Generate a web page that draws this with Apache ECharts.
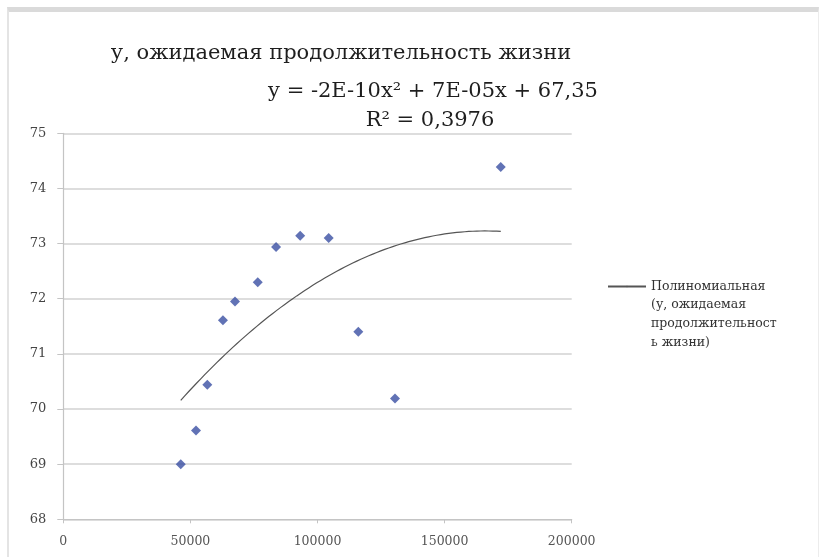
<!DOCTYPE html>
<html>
<head>
<meta charset="utf-8">
<script src="https://cdn.jsdelivr.net/npm/echarts@6/dist/echarts.min.js"></script>
<style>
html, body { margin: 0; padding: 0; background: #fff; }
#chart { width: 822px; height: 557px; }
#frame {
  position: absolute; left: 7px; top: 7px; width: 812px; height: 560px;
  border-top: 5px solid #dadada; border-left: 2px solid #e4e4e4; border-right: 1px solid #ececec;
  box-sizing: border-box; pointer-events: none;
}
</style>
</head>
<body>
<div id="chart"></div>
<div id="frame"></div>
<script>
// x - доход, y - ожидаемая продолжительность жизни
const income = [46200, 52200, 56650, 62800, 67550, 76500, 83700, 93200, 104400, 116050, 130500, 172100];
const lifeExp = [69.00, 69.61, 70.44, 71.61, 71.95, 72.30, 72.94, 73.14, 73.10, 71.40, 70.19, 74.39];
const xTicks = [0, 50000, 100000, 150000, 200000];
const yTicks = [68, 69, 70, 71, 72, 73, 74, 75];

const titleText = "у, ожидаемая продолжительность жизни";
const eqText = "y = -2E-10x² + 7E-05x + 67,35";
const r2Text = "R² = 0,3976";
const legendText = "Полиномиальная\n(у, ожидаемая\nпродолжительност\nь жизни)";

// полиномиальный тренд 2-й степени (МНК по точкам)
function polyFit(xs, ys) {
  let s = [0, 0, 0, 0, 0], t = [0, 0, 0];
  xs.forEach((x, i) => {
    const u = x / 1e5;
    for (let k = 0; k < 5; k++) s[k] += Math.pow(u, k);
    for (let k = 0; k < 3; k++) t[k] += ys[i] * Math.pow(u, k);
  });
  const A = [[s[0], s[1], s[2], t[0]], [s[1], s[2], s[3], t[1]], [s[2], s[3], s[4], t[2]]];
  for (let i = 0; i < 3; i++) {
    for (let j = i + 1; j < 3; j++) {
      const f = A[j][i] / A[i][i];
      for (let k = i; k < 4; k++) A[j][k] -= f * A[i][k];
    }
  }
  const c = [0, 0, 0];
  for (let i = 2; i >= 0; i--) {
    let v = A[i][3];
    for (let k = i + 1; k < 3; k++) v -= A[i][k] * c[k];
    c[i] = v / A[i][i];
  }
  return x => { const u = x / 1e5; return c[0] + c[1] * u + c[2] * u * u; };
}
const trend = polyFit(income, lifeExp);
const xMin = Math.min(...income), xMax = Math.max(...income);
const trendData = [];
for (let i = 0; i <= 80; i++) {
  const x = xMin + (xMax - xMin) * i / 80;
  trendData.push([x, trend(x)]);
}

const serif = "DejaVu Serif";
const headStyle = { fontFamily: serif, fontSize: 21, fontWeight: "normal", color: "#1e1e1e" };
const chart = echarts.init(document.getElementById("chart"));
chart.setOption({
  animation: false,
  backgroundColor: "#fff",
  title: [
    { text: titleText, left: 336, top: 38, textAlign: "center", textStyle: headStyle },
    { text: eqText, left: 428, top: 76, textAlign: "center", textStyle: headStyle },
    { text: r2Text, left: 425, top: 105, textAlign: "center", textStyle: headStyle }
  ],
  legend: {
    data: ["trend"],
    left: 607,
    top: 221,
    padding: 0,
    itemWidth: 38,
    itemHeight: 2,
    itemGap: 6,
    formatter: () => "\n\n\n" + legendText,
    textStyle: { fontFamily: serif, fontSize: 12.5, color: "#333", lineHeight: 18.7 }
  },
  grid: { left: 63.3, right: 250.3, top: 133.3, bottom: 37.7 },
  xAxis: {
    type: "value",
    min: xTicks[0],
    max: xTicks[xTicks.length - 1],
    interval: xTicks[1] - xTicks[0],
    axisLine: { lineStyle: { color: "#c4c4c4", width: 1.2 } },
    axisTick: { show: true, length: 4, lineStyle: { color: "#c4c4c4" } },
    axisLabel: { fontFamily: serif, fontSize: 12.5, color: "#555", margin: 16, formatter: v => String(v) },
    splitLine: { show: false }
  },
  yAxis: {
    type: "value",
    min: yTicks[0],
    max: yTicks[yTicks.length - 1],
    interval: 1,
    axisLine: { show: true, lineStyle: { color: "#c4c4c4", width: 1.2 } },
    axisTick: { show: true, length: 6, lineStyle: { color: "#c4c4c4" } },
    axisLabel: { fontFamily: serif, fontSize: 13, color: "#444", margin: 17 },
    splitLine: { lineStyle: { color: "#d2d2d2", width: 1.5 } }
  },
  series: [
    {
      name: "points",
      type: "scatter",
      symbol: "diamond",
      symbolSize: 10,
      itemStyle: { color: "#3a4fa3" },
      data: income.map((x, i) => [x, lifeExp[i]])
    },
    {
      name: "trend",
      type: "line",
      symbol: "none",
      showSymbol: false,
      smooth: false,
      lineStyle: { color: "#555", width: 1.2 },
      itemStyle: { color: "#555" },
      data: trendData
    }
  ]
});
</script>
</body>
</html>
